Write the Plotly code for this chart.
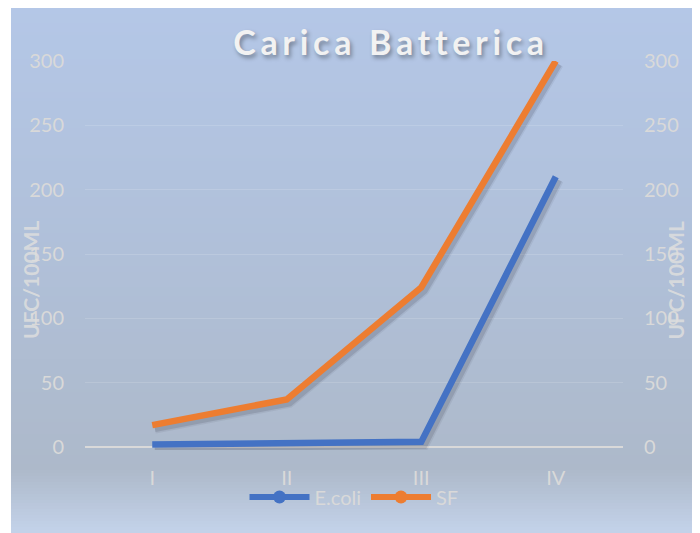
import plotly.graph_objects as go

categories = ["I", "II", "III", "IV"]
ecoli = [2, 3, 4, 210]
sf = [17, 37, 124, 300]
y_ticks = [0, 50, 100, 150, 200, 250, 300]
title_text = "Carica Batterica"
axis_title = "UFC/100ML"

OFF = 8  # page body margin
W, H = 700 - OFF, 533 - OFF
# plot area in reference (window) pixels
PX_L, PX_R, PX_T, PX_B = 85, 623, 61, 450
Y_MIN, Y_MAX = -2.33, 300
pw, ph = PX_R - PX_L, PX_B - PX_T


def px_x(p):
    return (p - PX_L) / pw


def px_y(p):
    return (PX_B - p) / ph


BLUE = "#4472c4"
ORANGE = "#ed7d31"
TXT = "#d9d9d9"

fig = go.Figure()

# gradient background bands
stops = [(5, (180, 199, 231)), (250, (176, 192, 217)), (470, (173, 185, 202)), (533, (196, 211, 234))]


def col_at(p):
    for (p0, c0), (p1, c1) in zip(stops[:-1], stops[1:]):
        if p0 <= p <= p1:
            t = (p - p0) / (p1 - p0)
            return tuple(round(a + (b - a) * t) for a, b in zip(c0, c1))
    return stops[-1][1]


shapes = []
step = 3
p = 5
while p < 533:
    q = min(p + step, 533)
    c = col_at((p + q) / 2)
    shapes.append(dict(type="rect", xref="paper", yref="paper", layer="below",
                       x0=px_x(11), x1=px_x(692), y0=px_y(q + 0.5), y1=px_y(p),
                       fillcolor="rgb(%d,%d,%d)" % c, line=dict(width=0)))
    p = q

# empty-value trace on base axes so the category axis and right axis render
fig.add_trace(go.Scatter(x=categories, y=[None] * len(categories), yaxis="y2",
                         mode="lines", showlegend=False, hoverinfo="skip"))

# shadows (offset axes x2/y3)
dx_units = 2.5 / (pw / 4)
dy_units = 3.0 * (Y_MAX - Y_MIN) / ph
for vals in (ecoli, sf):
    for w, a in ((11, 0.07), (8, 0.14)):
        fig.add_trace(go.Scatter(x=categories, y=vals, mode="lines", xaxis="x2", yaxis="y3",
                                 line=dict(color="rgba(40,40,60,%s)" % a, width=w),
                                 hoverinfo="skip", showlegend=False))

# main lines on x3/y4 (same ranges as main axes, drawn above shadows)
fig.add_trace(go.Scatter(x=categories, y=ecoli, mode="lines", name="E.coli", xaxis="x3", yaxis="y4",
                         line=dict(color=BLUE, width=6.5), showlegend=False))
fig.add_trace(go.Scatter(x=categories, y=sf, mode="lines", name="SF", xaxis="x3", yaxis="y4",
                         line=dict(color=ORANGE, width=6.5), showlegend=False))
# legend entries
fig.add_trace(go.Scatter(x=[None], y=[None], mode="lines+markers", name="E.coli",
                         line=dict(color=BLUE, width=6), marker=dict(size=13, color=BLUE)))
fig.add_trace(go.Scatter(x=[None], y=[None], mode="lines+markers", name="SF",
                         line=dict(color=ORANGE, width=6), marker=dict(size=13, color=ORANGE)))

tickfont = dict(family="Lato", size=20, color=TXT)

fig.update_layout(
    width=W, height=H,
    margin=dict(l=PX_L - OFF, r=700 - PX_R, t=PX_T - OFF, b=533 - PX_B, pad=0),
    paper_bgcolor="white",
    plot_bgcolor="rgba(0,0,0,0)",
    shapes=shapes,
    showlegend=True,
    title=dict(text='<b><span style="letter-spacing:4.7px">%s</span></b>' % title_text,
               x=px_x(391), xref="paper", xanchor="center",
               y=1 - (43 - OFF) / H, yref="container", yanchor="middle",
               font=dict(family="Lato", size=34, color="#f2f2f2",
                         shadow="2px 3px 4px rgba(0,0,0,0.35)")),
    xaxis=dict(type="category", categoryarray=categories, range=[-0.5, 3.5], showgrid=False,
               zeroline=False, showline=False, ticks="", tickfont=tickfont, ticklabelstandoff=14),
    xaxis2=dict(type="category", overlaying="x", range=[-0.5 - dx_units, 3.5 - dx_units],
                visible=False),
    xaxis3=dict(type="category", overlaying="x", range=[-0.5, 3.5], visible=False),
    yaxis=dict(range=[Y_MIN, Y_MAX], tickvals=y_ticks, showgrid=True,
               gridcolor="rgba(255,255,255,0.14)", gridwidth=1,
               zeroline=True, zerolinecolor="#d9d9d9", zerolinewidth=2,
               showline=False, ticks="", tickfont=tickfont, ticklabelstandoff=20),
    yaxis2=dict(range=[Y_MIN, Y_MAX], tickvals=y_ticks, overlaying="y", side="right",
                showgrid=False, zeroline=False, showline=False, ticks="",
                tickfont=tickfont, ticklabelstandoff=20),
    yaxis3=dict(range=[Y_MIN + dy_units, Y_MAX + dy_units], overlaying="y", visible=False),
    yaxis4=dict(range=[Y_MIN, Y_MAX], overlaying="y", visible=False),
    legend=dict(orientation="h", x=0.5, xanchor="center", y=px_y(497), yanchor="middle",
                font=dict(family="Lato", size=20, color=TXT), bgcolor="rgba(0,0,0,0)",
                itemwidth=60),
    annotations=[
        dict(text="<b>%s</b>" % axis_title, xref="paper", yref="paper", x=px_x(30), y=px_y(280),
             textangle=-90, showarrow=False, xanchor="center", yanchor="middle",
             font=dict(family="Lato", size=21, color="rgba(222,222,222,0.85)")),
        dict(text="<b>%s</b>" % axis_title, xref="paper", yref="paper", x=px_x(674.5), y=px_y(280),
             textangle=-90, showarrow=False, xanchor="center", yanchor="middle",
             font=dict(family="Lato", size=21, color="rgba(222,222,222,0.85)")),
    ],
)

fig.write_html("out.html")
